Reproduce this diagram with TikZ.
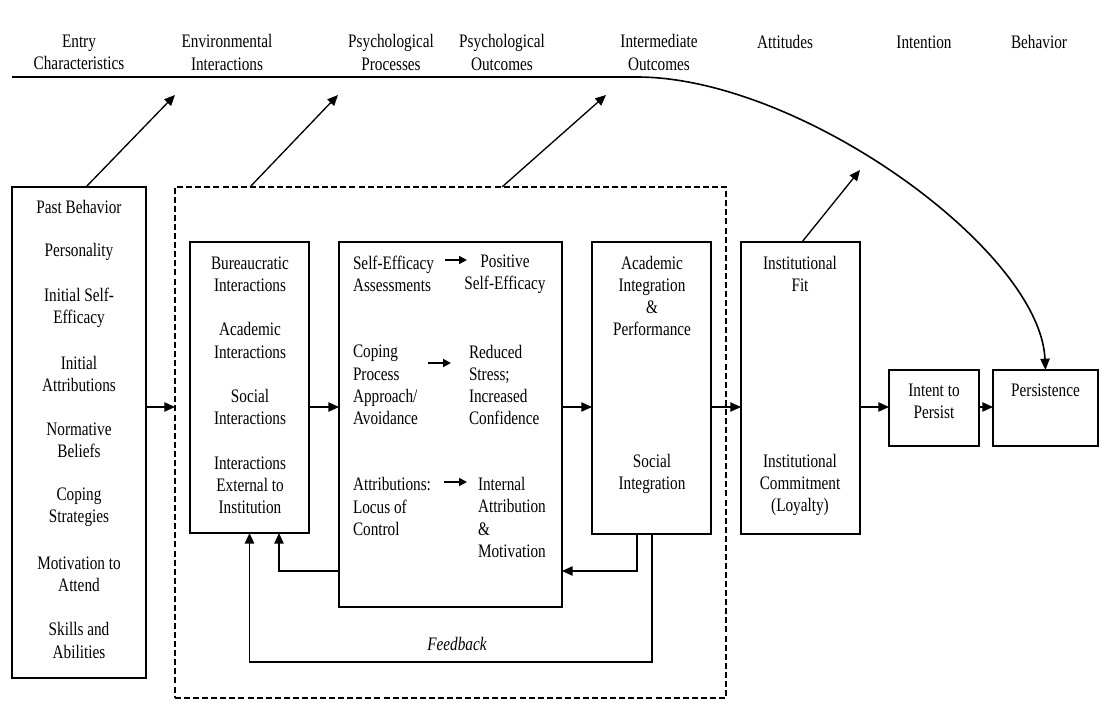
\documentclass[tikz,border=0pt]{standalone}
\usepackage{fontspec}
\setmainfont{Liberation Serif}[FakeStretch=0.8]
\usetikzlibrary{arrows.meta,calc}
\newlength\px
\setlength\px{0.75pt}
\begin{document}
\begin{tikzpicture}[x=0.75pt,y=-0.75pt,
  every node/.style={font=\fontsize{14.3}{16.65}\selectfont, inner sep=0pt, outer sep=0pt},
  box/.style={draw, line width=1pt},
  txt/.style={align=center},
  lft/.style={align=left, anchor=west},
  arr/.style={line width=1pt, -{Triangle[length=8pt,width=7pt]}},
  loop/.style={line width=1.2pt, -{Triangle[length=8pt,width=7pt]}},
  minor/.style={line width=1.3pt, -{Triangle[length=6pt,width=6pt]}}]
\useasboundingbox (0,0) rectangle (1115,709);

% header row
\node[txt] (h1) at (79,52.5) {Entry\\Characteristics};
\node[txt] (h2) at (227,52.5) {Environmental\\Interactions};
\node[txt] (h3) at (391,52.5) {Psychological\\Processes};
\node[txt] (h4) at (502,52.5) {Psychological\\Outcomes};
\node[txt] (h5) at (659,52.5) {Intermediate\\Outcomes};
\node[txt] (h6) at (785,42) {Attitudes};
\node[txt] (h7) at (924,42) {Intention};
\node[txt] (h8) at (1039,42) {Behavior};

% boxes
\node[box, minimum width=134\px, minimum height=491\px] (entry) at (79,432.5) {};
\node[draw, line width=1pt, dash pattern=on 4.5pt off 2.3pt,
      minimum width=551\px, minimum height=511\px] (zone) at (450.5,442.5) {};
\node[box, minimum width=119\px, minimum height=291\px] (env) at (249.5,387.5) {};
\node[box, minimum width=223\px, minimum height=365\px] (psych) at (450.5,424.5) {};
\node[box, minimum width=119\px, minimum height=292\px] (acad) at (651.5,388) {};
\node[box, minimum width=119\px, minimum height=292\px] (inst) at (800.5,388) {};
\node[box, minimum width=90\px, minimum height=76\px] (intent) at (934,408) {};
\node[box, minimum width=105\px, minimum height=76\px] (persist) at (1045.5,408) {};

% entry characteristics
\node[txt] (e1) at (79,207) {Past Behavior};
\node[txt] (e2) at (79,252) {Personality};
\node[txt] (e3) at (79,307.5) {Initial Self-\\Efficacy};
\node[txt] (e4) at (79,374) {Initial\\Attributions};
\node[txt] (e5) at (79,440.5) {Normative\\Beliefs};
\node[txt] (e6) at (79,507) {Coping\\Strategies};
\node[txt] (e7) at (79,574) {Motivation to\\Attend};
\node[txt] (e8) at (79,640.5) {Skills and\\Abilities};

% environmental interactions
\node[txt] (n1) at (250,274) {Bureaucratic\\Interactions};
\node[txt] (n2) at (250,340.5) {Academic\\Interactions};
\node[txt] (n3) at (250,407) {Social\\Interactions};
\node[txt] (n4) at (250,485) {Interactions\\External to\\Institution};

% psychological processes and outcomes
\node[lft] (p1) at (353,274) {Self-Efficacy\\Assessments};
\node[lft] (p2) at (353,385) {Coping\\Process\\Approach/\\Avoidance};
\node[lft] (p3) at (353,506.5) {Attributions:\\Locus of\\Control};
\node[txt] (o1) at (505,274) {Positive\\Self-Efficacy};
\node[lft] (o2) at (469,385) {Reduced\\Stress;\\Increased\\Confidence};
\node[lft] (o3) at (478,517.5) {Internal\\Attribution\\\&\\Motivation};
\coordinate (a1s) at (445,260); \coordinate (a1e) at (467,260);
\coordinate (a2s) at (428,363); \coordinate (a2e) at (451,363);
\coordinate (a3s) at (444,482); \coordinate (a3e) at (467,482);
\draw[minor] (a1s) -- (a1e);
\draw[minor] (a2s) -- (a2e);
\draw[minor] (a3s) -- (a3e);

% intermediate outcomes
\node[txt] (i1) at (652,296) {Academic\\Integration\\\&\\Performance};
\node[txt] (i2) at (652,474) {Social\\Integration};

% attitudes
\node[txt] (f1) at (800,274) {Institutional\\Fit};
\node[txt] (f2) at (800,485) {Institutional\\Commitment\\(Loyalty)};

% intention and behavior
\node[txt] (it) at (934,401) {Intent to\\Persist};
\node[txt] (pt) at (1045.5,390) {Persistence};

% main flow
\coordinate (row) at (0,407);
\draw[arr] (entry.east |- row) -- (zone.west |- row);
\draw[arr] (env.east |- row) -- (psych.west |- row);
\draw[arr] (psych.east |- row) -- (acad.west |- row);
\draw[arr] (acad.east |- row) -- (inst.west |- row);
\draw[arr] (inst.east |- row) -- (intent.west |- row);
\draw[arr] (intent.east |- row) -- (persist.west |- row);

% feedback loops
\coordinate (fbi) at (0,571);
\coordinate (fbo) at (457,662);
\draw[loop] ($(acad.south)+(-14.5,0)$) |- (psych.east |- fbi);
\draw[loop] (psych.west |- fbi) -| ($(env.south)+(29.5,0)$);
\draw[loop] ($(acad.south)+(0.5,0)$) |- (fbo) -| (env.south);
\node[font=\fontsize{14.3}{16.65}\selectfont\itshape] (fb) at (457,644) {Feedback};

% diagonal links toward the header row
\coordinate (t1) at (175,95);
\coordinate (t2) at (338,95);
\coordinate (t3) at (606,95);
\coordinate (t4) at (860,170);
\draw[arr] ($(entry.north)+(7,0)$) -- (t1);
\draw[arr] ($(zone.north west)+(75,0)$) -- (t2);
\draw[arr] ($(zone.north west)+(327,0)$) -- (t3);
\draw[arr] ($(inst.north)+(1.5,0)$) -- (t4);

% header rule bending down to persistence
\coordinate (hl) at (12,77);
\coordinate (hb) at (637,77);
\draw[line width=1.2pt, -{Triangle[length=8.5pt,width=7pt]}]
  (hl) -- (hb) .. controls (800,77) and (1040,250) .. (persist.north);
\end{tikzpicture}
\end{document}
